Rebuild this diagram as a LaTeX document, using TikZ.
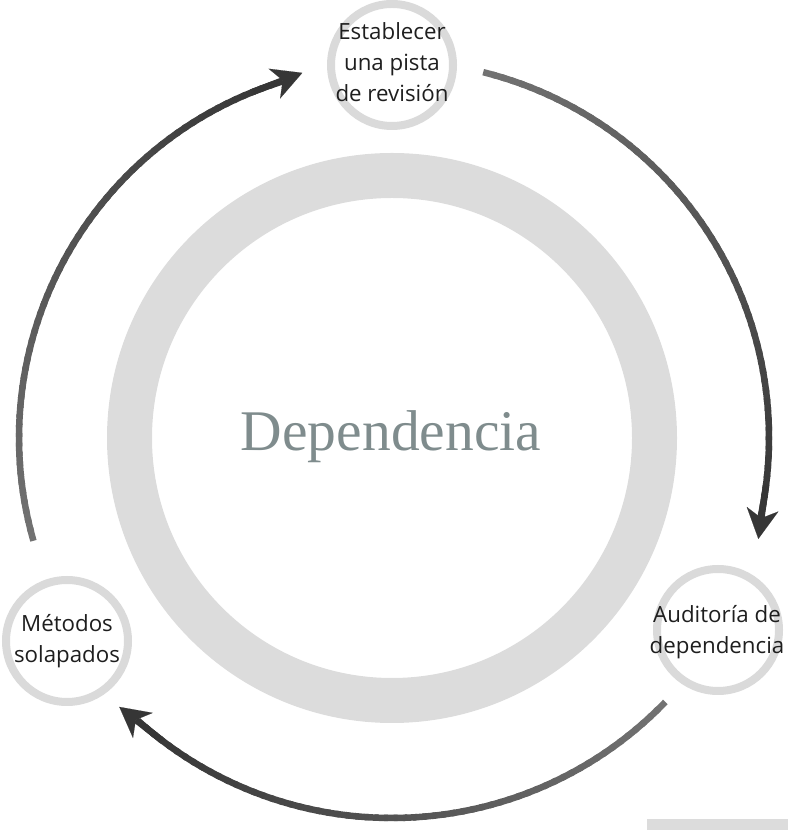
\documentclass[tikz,border=0pt]{standalone}
\usepackage{fontspec}
\newfontfamily\labelfont{Open Sans}
\newfontfamily\titlefont{Liberation Serif}
\usetikzlibrary{arrows.meta}
\definecolor{ringgray}{HTML}{DCDCDC}
\definecolor{circgray}{HTML}{DADADA}
\definecolor{tailgray}{HTML}{727272}
\definecolor{headgray}{HTML}{363636}
\definecolor{titlegray}{HTML}{7F8C8D}
\definecolor{labelink}{HTML}{1E1E1E}
\newcommand\cyclearrow[3]{% #1 radius, #2 tail angle, #3 tip angle
  \pgfmathsetmacro\shaftend{#3+4}
  \foreach \k in {0,...,59}{
    \pgfmathsetmacro\aa{#2+(\shaftend-(#2))*\k/60}
    \pgfmathsetmacro\bb{#2+(\shaftend-(#2))*(\k+1.4)/60}
    \pgfmathtruncatemacro\pc{100*\k/59}
    \colorlet{segcol}{headgray!\pc!tailgray}
    \draw[segcol, line width=6.5pt] (C) ++(\aa:#1) arc[start angle=\aa, end angle=\bb, radius=#1];
  }
  \path (C) ++(#3+8:#1) coordinate (hs) (C) ++(#3:#1+3) coordinate (ht);
  \draw[headgray, line width=6.5pt, -{Stealth[length=30pt,width=32pt,inset=9pt,line width=0.1pt]}] (hs) -- (ht);
}
\begin{document}
\begin{tikzpicture}[x=1pt,y=1pt,
  stepcircle/.style={circle, draw=circgray, line width=8pt, minimum size=122pt, inner sep=0pt},
  steplabel/.style={font=\labelfont\fontsize{22.3}{31}\selectfont, text=labelink, align=center, inner sep=0pt},
  titletext/.style={font=\titlefont\fontsize{57.5}{62}\selectfont, text=titlegray, anchor=base, inner sep=0pt}]
\useasboundingbox (0,0) rectangle (788,830);
\coordinate (C) at (392,392);
\draw[ringgray, line width=45pt] (C) circle[radius=262.5];
\node[titletext] (title) at (391,379) {Dependencia};
% arrows
\cyclearrow{377}{76}{-15.4}
\cyclearrow{380}{-44}{-135.4}
\cyclearrow{373}{196}{103.8}
% step circles
\node[stepcircle] (top) at (392,765) {};
\node[stepcircle] (right) at (718,200) {};
\node[stepcircle] (left) at (67,189) {};
\node[steplabel] (toplabel) at (392,768) {Establecer\\una pista\\de revisión};
\node[steplabel] (rightlabel) at (717,198) {Auditoría de\\dependencia};
\node[steplabel] (leftlabel) at (67,188.5) {Métodos\\solapados};
\fill[ringgray] (647,0) rectangle (788,11);
\end{tikzpicture}
\end{document}
